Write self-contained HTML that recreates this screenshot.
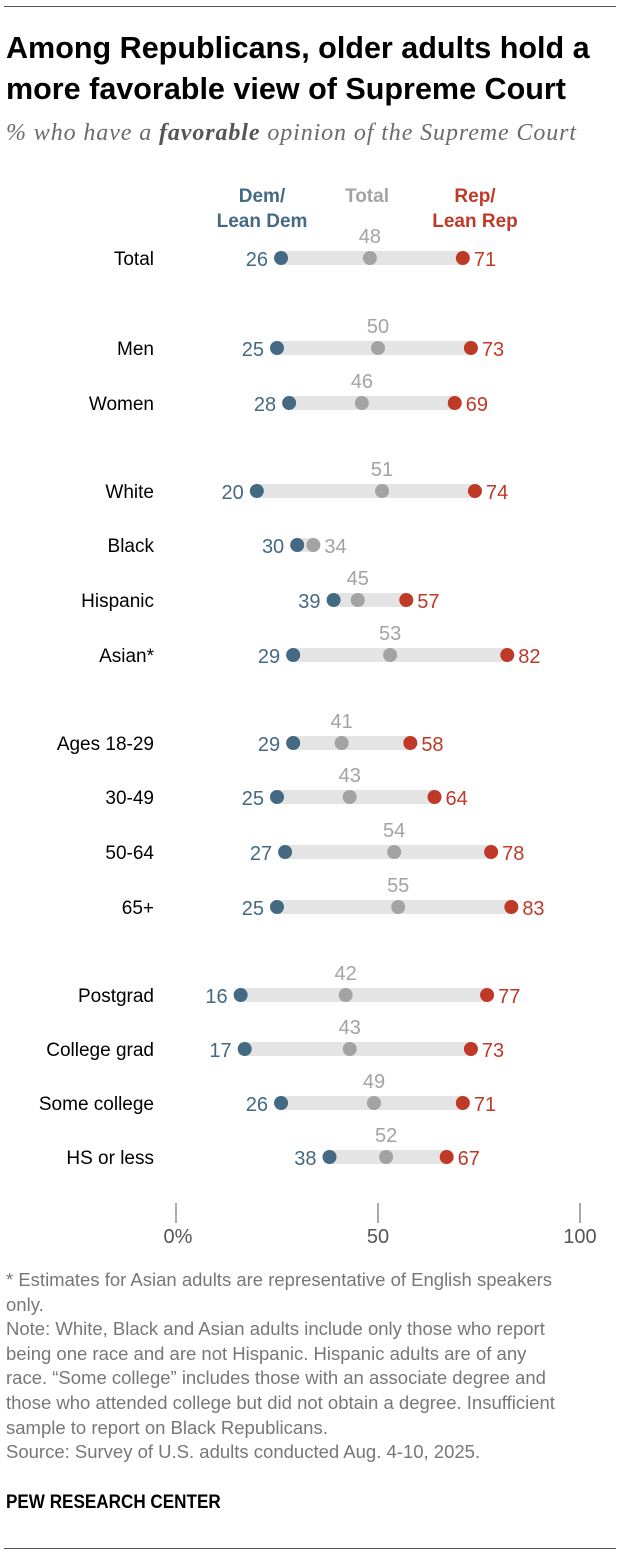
<!DOCTYPE html>
<html><head><meta charset="utf-8"><style>
body{margin:0;background:#fff;width:620px;height:1556px;overflow:hidden;font-family:"Liberation Sans",sans-serif}
.t{position:absolute;white-space:nowrap}
</style></head><body>
<div style="position:absolute;left:4px;top:6px;width:612px;height:1px;background:#555"></div>
<div class="t" style="left:6px;top:27px;font-size:31px;font-weight:bold;line-height:41px;color:#000;transform:scaleX(0.985);transform-origin:left top">Among Republicans, older adults hold a<br>more favorable view of Supreme Court</div>
<div class="t" style="left:6px;top:120px;font-size:24px;letter-spacing:0.9px;font-style:italic;font-family:'Liberation Serif',serif;color:#6b6b6b">% who have a <b style="color:#555">favorable</b> opinion of the Supreme Court</div>
<svg id="c" width="620" height="1556" style="position:absolute;left:0;top:0"></svg>
<div class="t" style="left:6px;top:1268px;font-size:18.5px;line-height:24.6px;color:#777">* Estimates for Asian adults are representative of English speakers<br>only.<br>Note: White, Black and Asian adults include only those who report<br>being one race and are not Hispanic. Hispanic adults are of any<br>race. “Some college” includes those with an associate degree and<br>those who attended college but did not obtain a degree. Insufficient<br>sample to report on Black Republicans.<br>Source: Survey of U.S. adults conducted Aug. 4-10, 2025.</div>
<div class="t" style="left:6px;top:1492px;font-size:19px;font-weight:bold;color:#000;transform:scaleX(0.9);transform-origin:left top">PEW RESEARCH CENTER</div>
<div style="position:absolute;left:4px;top:1548px;width:612px;height:1px;background:#555"></div>
<script>
const categories=["Total","Men","Women","White","Black","Hispanic","Asian*","Ages 18-29","30-49","50-64","65+","Postgrad","College grad","Some college","HS or less"];
const demValues=[26,25,28,20,30,39,29,29,25,27,25,16,17,26,38];
const totalValues=[48,50,46,51,34,45,53,41,43,54,55,42,43,49,52];
const repValues=[71,73,69,74,null,57,82,58,64,78,83,77,73,71,67];
const rowY=[258,348,403,491,545,600,655,743,797,852,907,995,1049,1103,1157];
const ticks=[0,50,100];const tickLabels=["0%","50","100"];
const DEM="#436983",TOT="#a3a3a3",REP="#bf3927";
const x=v=>176+v*4.04;
const svg=document.getElementById('c');const NS="http://www.w3.org/2000/svg";
function mk(t,a,txt){const e=document.createElementNS(NS,t);for(const k in a)e.setAttribute(k,a[k]);if(txt!=null)e.textContent=txt;svg.appendChild(e);return e;}
function hdr(cx,lines,col,nm){lines.forEach((l,i)=>{const e=mk('text',{x:cx,y:202+i*25,'text-anchor':'middle','font-size':19,'font-weight':'bold',fill:col},l);

});}
hdr(262,["Dem/","Lean Dem"],DEM,'legend-dem');hdr(367,["Total"],TOT,'legend-total');hdr(475,["Rep/","Lean Rep"],REP,'legend-rep');
categories.forEach((c,i)=>{const y=rowY[i];const d=demValues[i],t=totalValues[i],r=repValues[i];
const lab=mk('text',{x:154,y:y+7,'text-anchor':'end','font-size':19,fill:'#000'},c);


const hi=r==null?Math.max(d,t):r;const lo=Math.min(d,t);
const bar=mk('line',{x1:x(lo),x2:x(hi),y1:y,y2:y,stroke:'#e4e4e4','stroke-width':14});


const dd=mk('circle',{cx:x(d),cy:y,r:7,fill:DEM});


const dl=mk('text',{x:x(d)-13,y:y+8,'text-anchor':'end','font-size':20,fill:DEM},d);


const td=mk('circle',{cx:x(t),cy:y,r:7,fill:TOT});


const tl=r==null?mk('text',{x:x(t)+11,y:y+8,'font-size':20,fill:TOT},t):mk('text',{x:x(t),y:y-15,'text-anchor':'middle','font-size':20,fill:TOT},t);


if(r!=null){const rd=mk('circle',{cx:x(r),cy:y,r:7,fill:REP});


const rl=mk('text',{x:x(r)+11,y:y+8,'font-size':20,fill:REP},r);

}
});
ticks.forEach((v,i)=>{const l=mk('line',{x1:x(v),x2:x(v),y1:1203,y2:1223,stroke:'#555','stroke-width':1});


const tx=mk('text',{x:x(v)+(i==0?2:0),y:1243,'text-anchor':'middle','font-size':20,fill:'#555'},tickLabels[i]);

});
</script>
</body></html>
